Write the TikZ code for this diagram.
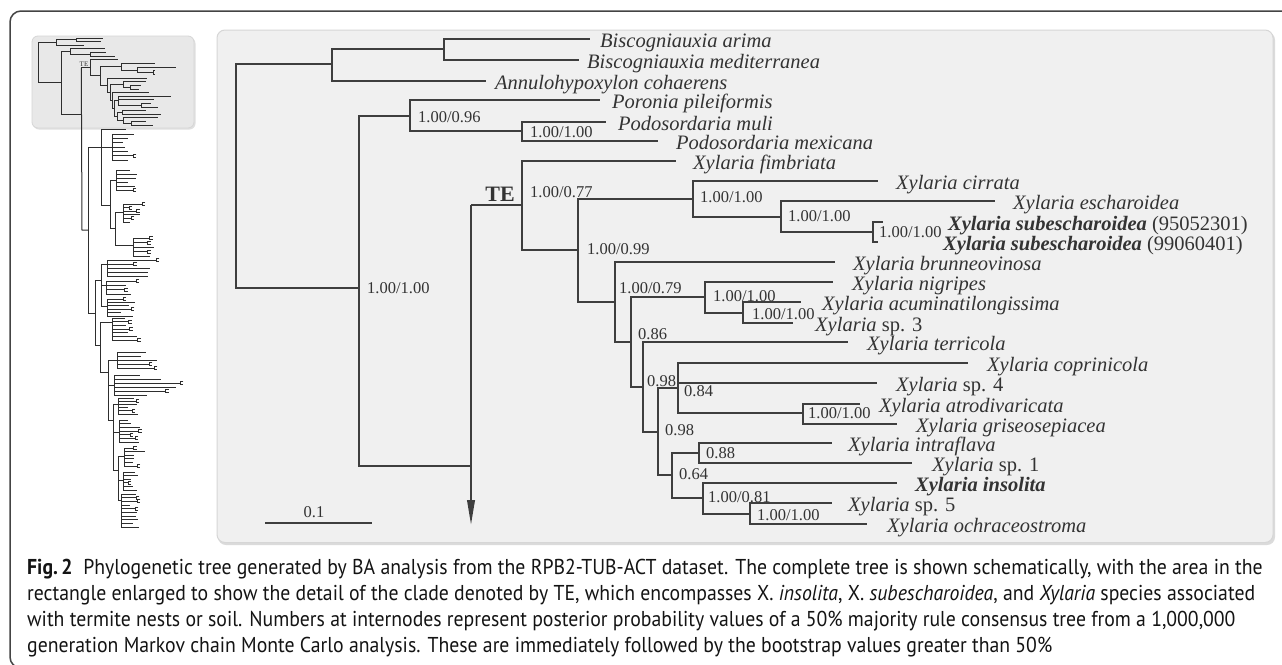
\documentclass[tikz,border=0pt]{standalone}
\usepackage{fontspec}
\usepackage{graphicx}
\setmainfont{Liberation Serif}
\newfontfamily\capfont{PT Sans}
\usetikzlibrary{arrows.meta}
\definecolor{treec}{HTML}{3E3E3E}
\definecolor{txtc}{HTML}{333333}
\definecolor{boxfill}{HTML}{F0F0F0}
\definecolor{boxline}{HTML}{D6D6D6}
\definecolor{insetfill}{HTML}{E8E8E8}
\definecolor{framec}{HTML}{444444}
\newlength\capw
\tikzset{
  edge/.style={draw=treec, line width=2.2pt},
  iedge/.style={draw=black!82, line width=1pt},
  leaf/.style={anchor=base west, inner sep=0pt, text=txtc, font=\fontsize{20.5}{22}\selectfont\itshape},
  bs/.style={anchor=base west, inner sep=0pt, text=txtc, font=\fontsize{16.5}{18}\selectfont},
  capt/.style={anchor=base west, inner sep=0pt, text=black!92, font=\capfont\fontsize{21.5}{26}\selectfont},
}
\newcommand\treeedges{%
 \coordinate (R) at (236,176);
 \coordinate (A) at (332,64);
 \coordinate (A1) at (444,49);
 \coordinate (arima) at (590,39);
 \coordinate (medit) at (579,60);
 \coordinate (annulo) at (486,81);
 \coordinate (B) at (359,288);
 \coordinate (B1) at (410,116);
 \coordinate (poronia) at (600,100);
 \coordinate (B2) at (522,131);
 \coordinate (muli) at (606,122);
 \coordinate (mexic) at (658,141);
 \coordinate (T) at (471,466);
 \coordinate (Ttop) at (471,205);
 \coordinate (C) at (522,205);
 \coordinate (fimb) at (676,161);
 \coordinate (D) at (578,250);
 \coordinate (E) at (693,199);
 \coordinate (cirr) at (878,181);
 \coordinate (E1) at (781,217);
 \coordinate (eschar) at (995,201);
 \coordinate (E2) at (873,232);
 \coordinate (subone) at (883,222);
 \coordinate (subtwo) at (878,242);
 \coordinate (F) at (615,302);
 \coordinate (brun) at (835,262);
 \coordinate (G) at (631,342);
 \coordinate (H) at (705,297);
 \coordinate (nigr) at (833,282);
 \coordinate (H1) at (743,313);
 \coordinate (acum) at (801,302);
 \coordinate (spthree) at (793,323);
 \coordinate (I) at (643,387);
 \coordinate (terr) at (848,342);
 \coordinate (J) at (658,432);
 \coordinate (K) at (678,388);
 \coordinate (copr) at (968,363);
 \coordinate (spfour) at (877,383);
 \coordinate (K1) at (803,413);
 \coordinate (atro) at (860,404);
 \coordinate (gris) at (897,424);
 \coordinate (L) at (672,475);
 \coordinate (M) at (699,453);
 \coordinate (intra) at (832,443);
 \coordinate (spone) at (912,463);
 \coordinate (N) at (703,498);
 \coordinate (ins) at (897,483);
 \coordinate (N1) at (750,514);
 \coordinate (spfive) at (832,503);
 \coordinate (ochra) at (867,524);
 \draw[edge] (R) |- (A);  \draw[edge] (R) |- (B);
 \draw[edge] (A) |- (A1); \draw[edge] (A) |- (annulo);
 \draw[edge] (A1) |- (arima); \draw[edge] (A1) |- (medit);
 \draw[edge] (B) |- (B1); \draw[edge] (B) |- (T);
 \draw[edge] (B1) |- (poronia); \draw[edge] (B1) |- (B2);
 \draw[edge] (B2) |- (muli); \draw[edge] (B2) |- (mexic);
 \draw[edge] (Ttop) -- (C);
 \draw[edge] (C) |- (fimb); \draw[edge] (C) |- (D);
 \draw[edge] (D) |- (E); \draw[edge] (D) |- (F);
 \draw[edge] (E) |- (cirr); \draw[edge] (E) |- (E1);
 \draw[edge] (E1) |- (eschar); \draw[edge] (E1) |- (E2);
 \draw[edge] (E2) |- (subone); \draw[edge] (E2) |- (subtwo);
 \draw[edge] (F) |- (brun); \draw[edge] (F) |- (G);
 \draw[edge] (G) |- (H); \draw[edge] (G) |- (I);
 \draw[edge] (H) |- (nigr); \draw[edge] (H) |- (H1);
 \draw[edge] (H1) |- (acum); \draw[edge] (H1) |- (spthree);
 \draw[edge] (I) |- (terr); \draw[edge] (I) |- (J);
 \draw[edge] (J) |- (K); \draw[edge] (J) |- (L);
 \draw[edge] (K) |- (copr); \draw[edge] (K) |- (spfour); \draw[edge] (K) |- (K1);
 \draw[edge] (K1) |- (atro); \draw[edge] (K1) |- (gris);
 \draw[edge] (L) |- (M); \draw[edge] (L) |- (N);
 \draw[edge] (M) |- (intra); \draw[edge] (M) |- (spone);
 \draw[edge] (N) |- (ins); \draw[edge] (N) |- (N1);
 \draw[edge] (N1) |- (spfive); \draw[edge] (N1) |- (ochra);
}
% comb of small leaves for the schematic tree: x, ytop, ybot, n, tipmin, tipmax
\newcommand\tcomb[6]{%
 \draw[iedge] (#1,#2) -- (#1,#3);
 \foreach \k in {1,...,#4}{%
   \pgfmathsetmacro\yy{#2+(#3-#2)*(\k-1)/(#4-1)}%
   \pgfmathsetmacro\xe{#5+rnd*(#6-#5)}%
   \draw[iedge] (#1,\yy) -- (\xe,\yy);
   \pgfmathsetmacro\bb{rnd}%
   \ifdim\bb pt<0.3pt
     \draw[iedge] (\xe+3,\yy-1.5) -- (\xe,\yy-1.5) -- (\xe,\yy+1.5) -- (\xe+3,\yy+1.5);
   \fi
 }}
\newcommand\capA{\textbf{Fig.\,2}\hspace{0.55em}Phylogenetic tree generated by BA analysis from the RPB2-TUB-ACT dataset. The complete tree is shown schematically, with the area in the}
\newcommand\capB{rectangle enlarged to show the detail of the clade denoted by TE, which encompasses X. \textit{insolita}, X. \textit{subescharoidea}, and \textit{Xylaria} species associated}
\newcommand\capC{with termite nests or soil. Numbers at internodes represent posterior probability values of a 50\% majority rule consensus tree from a 1,000,000}
\newcommand\capD{generation Markov chain Monte Carlo analysis. These are immediately followed by the bootstrap values greater than 50\%}
\begin{document}
\settowidth\capw{\capfont\fontsize{21.5}{26}\selectfont\capB}%
\pgfmathsetmacro\capr{1228/\capw}%
\begin{tikzpicture}[x=1pt,y=-1pt]
\useasboundingbox (0,0) rectangle (1282,664);
\fill[white] (0,0) rectangle (1282,664);
\pgfmathsetseed{11}
% outer frame
\draw[draw=framec, line width=1.5pt, rounded corners=11pt] (1300,11) -- (10,11) -- (10,668) -- (40,668);
% main box
\fill[black!14, rounded corners=8pt] (218,32) rectangle (1275,545);
\draw[fill=boxfill, draw=boxline, line width=1pt, rounded corners=8pt] (217,30) rectangle (1273,542.5);
% inset box
\fill[black!12, rounded corners=6pt] (33,37.5) rectangle (195.5,129.5);
\draw[fill=insetfill, draw=boxline, line width=0.8pt, rounded corners=6pt] (32,36) rectangle (194,128);

% ---------------- main tree ----------------
\treeedges
\coordinate (Tend) at (471,525);
\draw[edge, -{Triangle[length=25pt,width=7.5pt]}] (Ttop) -- (Tend);

% scale bar
\coordinate (sb1) at (265,523);
\coordinate (sb2) at (372,523);
\draw[edge] (sb1) -- (sb2);
\node[bs, anchor=base] (sbl) at (314,517) {0.1};

% TE label
\node[anchor=base east, inner sep=0pt, text=txtc, font=\fontsize{22}{24}\selectfont\bfseries] (te) at (515,201) {TE};

% leaf labels
\node[leaf] (l-arima) at (600,47) {Biscogniauxia arima};
\node[leaf] (l-medit) at (587,68) {Biscogniauxia mediterranea};
\node[leaf] (l-annulo) at (495,89) {Annulohypoxylon cohaerens};
\node[leaf] (l-poronia) at (612,108) {Poronia pileiformis};
\node[leaf] (l-muli) at (618,130) {Podosordaria muli};
\node[leaf] (l-mexic) at (676,149) {Podosordaria mexicana};
\node[leaf] (l-fimb) at (693,169) {Xylaria fimbriata};
\node[leaf] (l-cirr) at (896,189) {Xylaria cirrata};
\node[leaf] (l-eschar) at (1013,209) {Xylaria escharoidea};
\node[leaf, font=\fontsize{20.5}{22}\selectfont] (l-subone) at (948,230) {\textbf{\textit{Xylaria subescharoidea}} (95052301)};
\node[leaf, font=\fontsize{20.5}{22}\selectfont] (l-subtwo) at (943,250) {\textbf{\textit{Xylaria subescharoidea}} (99060401)};
\node[leaf] (l-brun) at (853,270) {Xylaria brunneovinosa};
\node[leaf] (l-nigr) at (852,290) {Xylaria nigripes};
\node[leaf] (l-acum) at (822,310) {Xylaria acuminatilongissima};
\node[leaf] (l-spthree) at (815,331) {Xylaria \upshape sp. 3};
\node[leaf] (l-terr) at (867,350) {Xylaria terricola};
\node[leaf] (l-copr) at (987,371) {Xylaria coprinicola};
\node[leaf] (l-spfour) at (896,391) {Xylaria \upshape sp. 4};
\node[leaf] (l-atro) at (879,412) {Xylaria atrodivaricata};
\node[leaf] (l-gris) at (916,432) {Xylaria griseosepiacea};
\node[leaf] (l-intra) at (848,451) {Xylaria intraflava};
\node[leaf] (l-spone) at (932,471) {Xylaria \upshape sp. 1};
\node[leaf, font=\fontsize{20.5}{22}\selectfont\bfseries\itshape] (l-ins) at (915,491) {Xylaria insolita};
\node[leaf] (l-spfive) at (848,511) {Xylaria \upshape sp. 5};
\node[leaf] (l-ochra) at (887,532) {Xylaria ochraceostroma};

% support values
\node[bs] (s1) at (367,293) {1.00/1.00};
\node[bs] (s2) at (418,122.5) {1.00/0.96};
\node[bs] (s3) at (530,137.5) {1.00/1.00};
\node[bs] (s4) at (530,197.5) {1.00/0.77};
\node[bs] (s5) at (587,254.5) {1.00/0.99};
\node[bs] (s6) at (700,202.5) {1.00/1.00};
\node[bs] (s7) at (788,221.5) {1.00/1.00};
\node[bs] (s8) at (879,237.5) {1.00/1.00};
\node[bs] (s9) at (619,293.5) {1.00/0.79};
\node[bs] (s10) at (713,301.5) {1.00/1.00};
\node[bs] (s11) at (752,319.5) {1.00/1.00};
\node[bs] (s12) at (638,339.5) {0.86};
\node[bs] (s13) at (647,386.5) {0.98};
\node[bs] (s14) at (684,396.5) {0.84};
\node[bs] (s15) at (808,418.5) {1.00/1.00};
\node[bs] (s16) at (665,435.5) {0.98};
\node[bs] (s17) at (706,458.5) {0.88};
\node[bs] (s18) at (679,479.5) {0.64};
\node[bs] (s19) at (708,502.5) {1.00/0.81};
\node[bs] (s20) at (757,520.5) {1.00/1.00};

% ---------------- inset (schematic complete tree) ----------------
\begin{scope}[name prefix=s-, shift={(-3.48,30.98)}, scale=0.18, edge/.style={iedge}]
  \treeedges
\end{scope}
\node[anchor=base, inner sep=0pt, text=txtc, font=\fontsize{7}{8}\selectfont] (ite) at (84,66) {TE};
\draw[iedge] (s-Ttop) -- (82,230) -- (88,230);
\draw[iedge] (88,147) -- (88,313);
\draw[iedge] (88,147) -- (101,147);
\draw[iedge] (101,129) -- (101,205);
\draw[iedge] (101,129) -- (126,129);
\draw[iedge] (101,147) -- (112,147); \tcomb{112}{134}{160}{7}{122}{140}
\draw[iedge] (101,205) -- (110,205);
\draw[iedge] (110,180) -- (110,228);
\draw[iedge] (110,180) -- (116,180); \tcomb{116}{170}{190}{6}{125}{140}
\draw[iedge] (110,228) -- (115,228);
\draw[iedge] (115,212) -- (115,245);
\draw[iedge] (115,212) -- (123,212); \tcomb{123}{204}{222}{6}{128}{143}
\draw[iedge] (115,245) -- (133,245); \tcomb{133}{238}{256}{5}{145}{160}
\draw[iedge] (88,313) -- (95,313);
\draw[iedge] (95,280) -- (95,345);
\draw[iedge] (95,280) -- (101,280);
\draw[iedge] (101,264) -- (101,306);
\draw[iedge] (101,264) -- (107,264); \tcomb{107}{260}{276}{5}{130}{160}
\draw[iedge] (101,285) -- (106,285); \tcomb{106}{281}{294}{4}{120}{140}
\draw[iedge] (101,306) -- (107,306); \tcomb{107}{299}{316}{6}{118}{140}
\draw[iedge] (95,345) -- (100,345);
\draw[iedge] (100,322) -- (100,372);
\draw[iedge] (100,322) -- (112,322); \tcomb{112}{318}{340}{7}{125}{140}
\draw[iedge] (100,372) -- (108,372);
\draw[iedge] (108,360) -- (108,420);
\draw[iedge] (108,360) -- (117,360); \tcomb{117}{352}{368}{5}{140}{170}
\draw[iedge] (108,385) -- (114,385); \tcomb{114}{375}{395}{6}{130}{182}
\draw[iedge] (108,420) -- (113,420);
\draw[iedge] (113,404) -- (113,470);
\draw[iedge] (113,404) -- (118,404); \tcomb{118}{398}{414}{6}{128}{140}
\draw[iedge] (113,432) -- (119,432); \tcomb{119}{420}{442}{7}{128}{140}
\draw[iedge] (113,470) -- (118,470);
\draw[iedge] (118,456) -- (118,500);
\draw[iedge] (118,456) -- (124,456); \tcomb{124}{448}{466}{6}{130}{149}
\draw[iedge] (118,480) -- (123,480); \tcomb{123}{472}{490}{6}{128}{140}
\draw[iedge] (118,500) -- (121,500); \tcomb{121}{494}{527}{10}{130}{140}

% ---------------- caption ----------------
\node[capt] (cap1) at (27,574) {\scalebox{\capr}[1]{\capA}};
\node[capt] (cap2) at (27,600) {\scalebox{\capr}[1]{\capB}};
\node[capt] (cap3) at (27,626) {\scalebox{\capr}[1]{\capC}};
\node[capt] (cap4) at (27,652) {\scalebox{\capr}[1]{\capD}};
\end{tikzpicture}
\end{document}
